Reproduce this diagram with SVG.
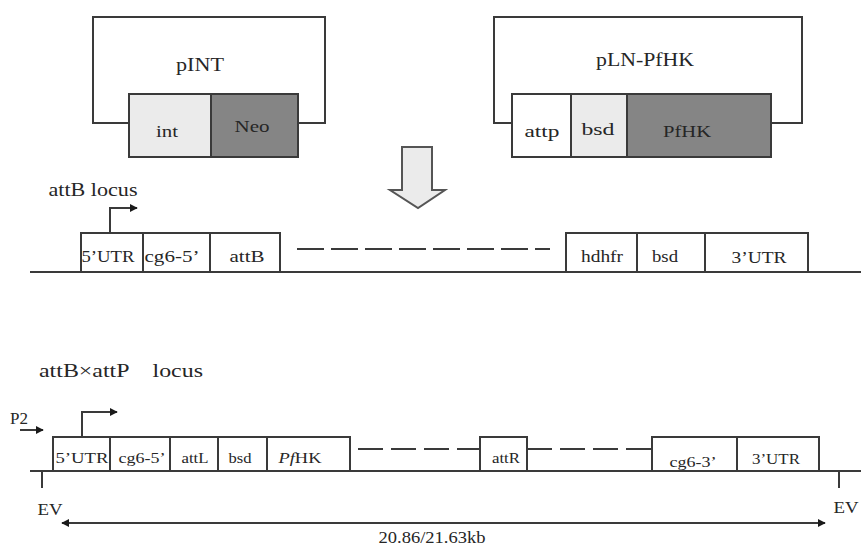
<svg xmlns="http://www.w3.org/2000/svg" width="861" height="547" viewBox="0 0 861 547">
<defs>
<style>
text{font-family:"Liberation Serif","Noto Sans CJK SC",serif;fill:#262626;text-anchor:middle;}
.t{font-size:18px;}
.b{font-size:16px;}
.s{font-size:15px;}
.box{stroke:#3a3a3a;stroke-width:2;fill:#fff;}
.lt{fill:#ebebeb;}
.dk{fill:#858585;}
.ln{stroke:#3a3a3a;stroke-width:2;fill:none;}
.dash1{stroke:#3a3a3a;stroke-width:2;fill:none;stroke-dasharray:27 7;}
.dash2{stroke:#3a3a3a;stroke-width:2;fill:none;stroke-dasharray:25 8;}
</style>
<marker id="ah" viewBox="0 0 10 10" refX="9" refY="5" markerWidth="8" markerHeight="8" markerUnits="userSpaceOnUse" orient="auto-start-reverse">
<path d="M0,0 L10,5 L0,10 z" fill="#1a1a1a"/>
</marker>
</defs>

<g id="pINT">
<path class="ln" d="M129,123 H93 V17 H325 V123 H298"/>
<text class="t" x="200" y="71" textLength="48" lengthAdjust="spacingAndGlyphs">pINT</text>
<rect class="box lt" x="129" y="94" width="82" height="63"/>
<rect class="box dk" x="211" y="94" width="87" height="63"/>
<text class="b" x="167" y="137" textLength="22" lengthAdjust="spacingAndGlyphs">int</text>
<text class="b" x="252" y="132" textLength="35" lengthAdjust="spacingAndGlyphs">Neo</text>
</g>

<g id="pLN-PfHK">
<path class="ln" d="M512,123 H494 V17 H802 V123 H771"/>
<text class="t" x="645" y="66" textLength="98" lengthAdjust="spacingAndGlyphs">pLN-PfHK</text>
<rect class="box" x="512" y="94" width="59" height="63"/>
<rect class="box lt" x="571" y="94" width="56" height="63"/>
<rect class="box dk" x="627" y="94" width="144" height="63"/>
<text class="b" x="542" y="137" textLength="35" lengthAdjust="spacingAndGlyphs">attp</text>
<text class="b" x="598" y="135" textLength="33" lengthAdjust="spacingAndGlyphs">bsd</text>
<text class="b" x="687" y="137" textLength="48" lengthAdjust="spacingAndGlyphs">PfHK</text>
</g>

<g id="arrow-down">
<path d="M402,147 H432 V190 H445 L418,208 L390,190 H402 Z" fill="#ebebeb" stroke="#555" stroke-width="2"/>
</g>

<g id="attB-locus">
<text class="t" x="93" y="196" textLength="89" lengthAdjust="spacingAndGlyphs">attB locus</text>
<line class="ln" x1="30" y1="272" x2="861" y2="272"/>
<rect class="box" x="81" y="233" width="62" height="39"/>
<rect class="box" x="143" y="233" width="67" height="39"/>
<rect class="box" x="210" y="233" width="70" height="39"/>
<rect class="box" x="566" y="233" width="71" height="39"/>
<rect class="box" x="637" y="233" width="68" height="39"/>
<rect class="box" x="705" y="233" width="103" height="39"/>
<text class="b" x="108" y="262" textLength="53" lengthAdjust="spacingAndGlyphs">5’UTR</text>
<text class="b" x="172" y="262" textLength="55" lengthAdjust="spacingAndGlyphs">cg6-5’</text>
<text class="b" x="247" y="262" textLength="35" lengthAdjust="spacingAndGlyphs">attB</text>
<text class="b" x="602" y="262" textLength="42" lengthAdjust="spacingAndGlyphs">hdhfr</text>
<text class="b" x="665" y="262" textLength="26" lengthAdjust="spacingAndGlyphs">bsd</text>
<text class="b" x="759" y="263" textLength="55" lengthAdjust="spacingAndGlyphs">3’UTR</text>
</g>

<g id="recomb-locus">
<text class="t" x="121" y="377" textLength="164" lengthAdjust="spacingAndGlyphs" xml:space="preserve">attB×attP    locus</text>
<text class="b" x="19" y="424" textLength="18" lengthAdjust="spacingAndGlyphs">P2</text>
<line class="ln" x1="30" y1="471" x2="861" y2="471"/>
<rect class="box" x="53" y="437" width="57" height="34"/>
<rect class="box" x="110" y="437" width="60" height="34"/>
<rect class="box" x="170" y="437" width="48" height="34"/>
<rect class="box" x="218" y="437" width="49" height="34"/>
<rect class="box" x="267" y="437" width="83" height="34"/>
<rect class="box" x="480" y="437" width="47" height="34"/>
<rect class="box" x="652" y="437" width="85" height="34"/>
<rect class="box" x="737" y="437" width="82" height="34"/>
<text class="s" x="82" y="463" textLength="53" lengthAdjust="spacingAndGlyphs">5’UTR</text>
<text class="s" x="142" y="463" textLength="47" lengthAdjust="spacingAndGlyphs">cg6-5’</text>
<text class="s" x="195" y="463" textLength="27" lengthAdjust="spacingAndGlyphs">attL</text>
<text class="s" x="240" y="463" textLength="23" lengthAdjust="spacingAndGlyphs">bsd</text>
<text class="s" x="300" y="463" textLength="43" lengthAdjust="spacingAndGlyphs"><tspan font-style="italic">Pf</tspan>HK</text>
<text class="s" x="506" y="463" textLength="28" lengthAdjust="spacingAndGlyphs">attR</text>
<text class="s" x="693" y="467" textLength="47" lengthAdjust="spacingAndGlyphs">cg6-3’</text>
<text class="s" x="776" y="464" textLength="48" lengthAdjust="spacingAndGlyphs">3’UTR</text>
<line class="ln" x1="42" y1="471" x2="42" y2="488"/>
<line class="ln" x1="839" y1="471" x2="839" y2="488"/>
<text class="b" x="50" y="515" textLength="25" lengthAdjust="spacingAndGlyphs">EV</text>
<text class="b" x="846" y="513" textLength="25" lengthAdjust="spacingAndGlyphs">EV</text>
<text class="b" x="432" y="543" textLength="107" lengthAdjust="spacingAndGlyphs">20.86/21.63kb</text>
</g>

<g id="connectors">
<path class="ln" d="M110,233 V208 H137" marker-end="url(#ah)"/>
<line class="dash1" x1="297" y1="249" x2="550" y2="249"/>
<path class="ln" d="M82,437 V412 H117" marker-end="url(#ah)"/>
<line class="ln" x1="20" y1="430" x2="43" y2="430" marker-end="url(#ah)"/>
<line class="dash2" x1="358" y1="449" x2="480" y2="449"/>
<line class="dash2" x1="527" y1="449" x2="652" y2="449"/>
<line class="ln" x1="62" y1="523" x2="825" y2="523" marker-start="url(#ah)" marker-end="url(#ah)"/>
</g>
</svg>
